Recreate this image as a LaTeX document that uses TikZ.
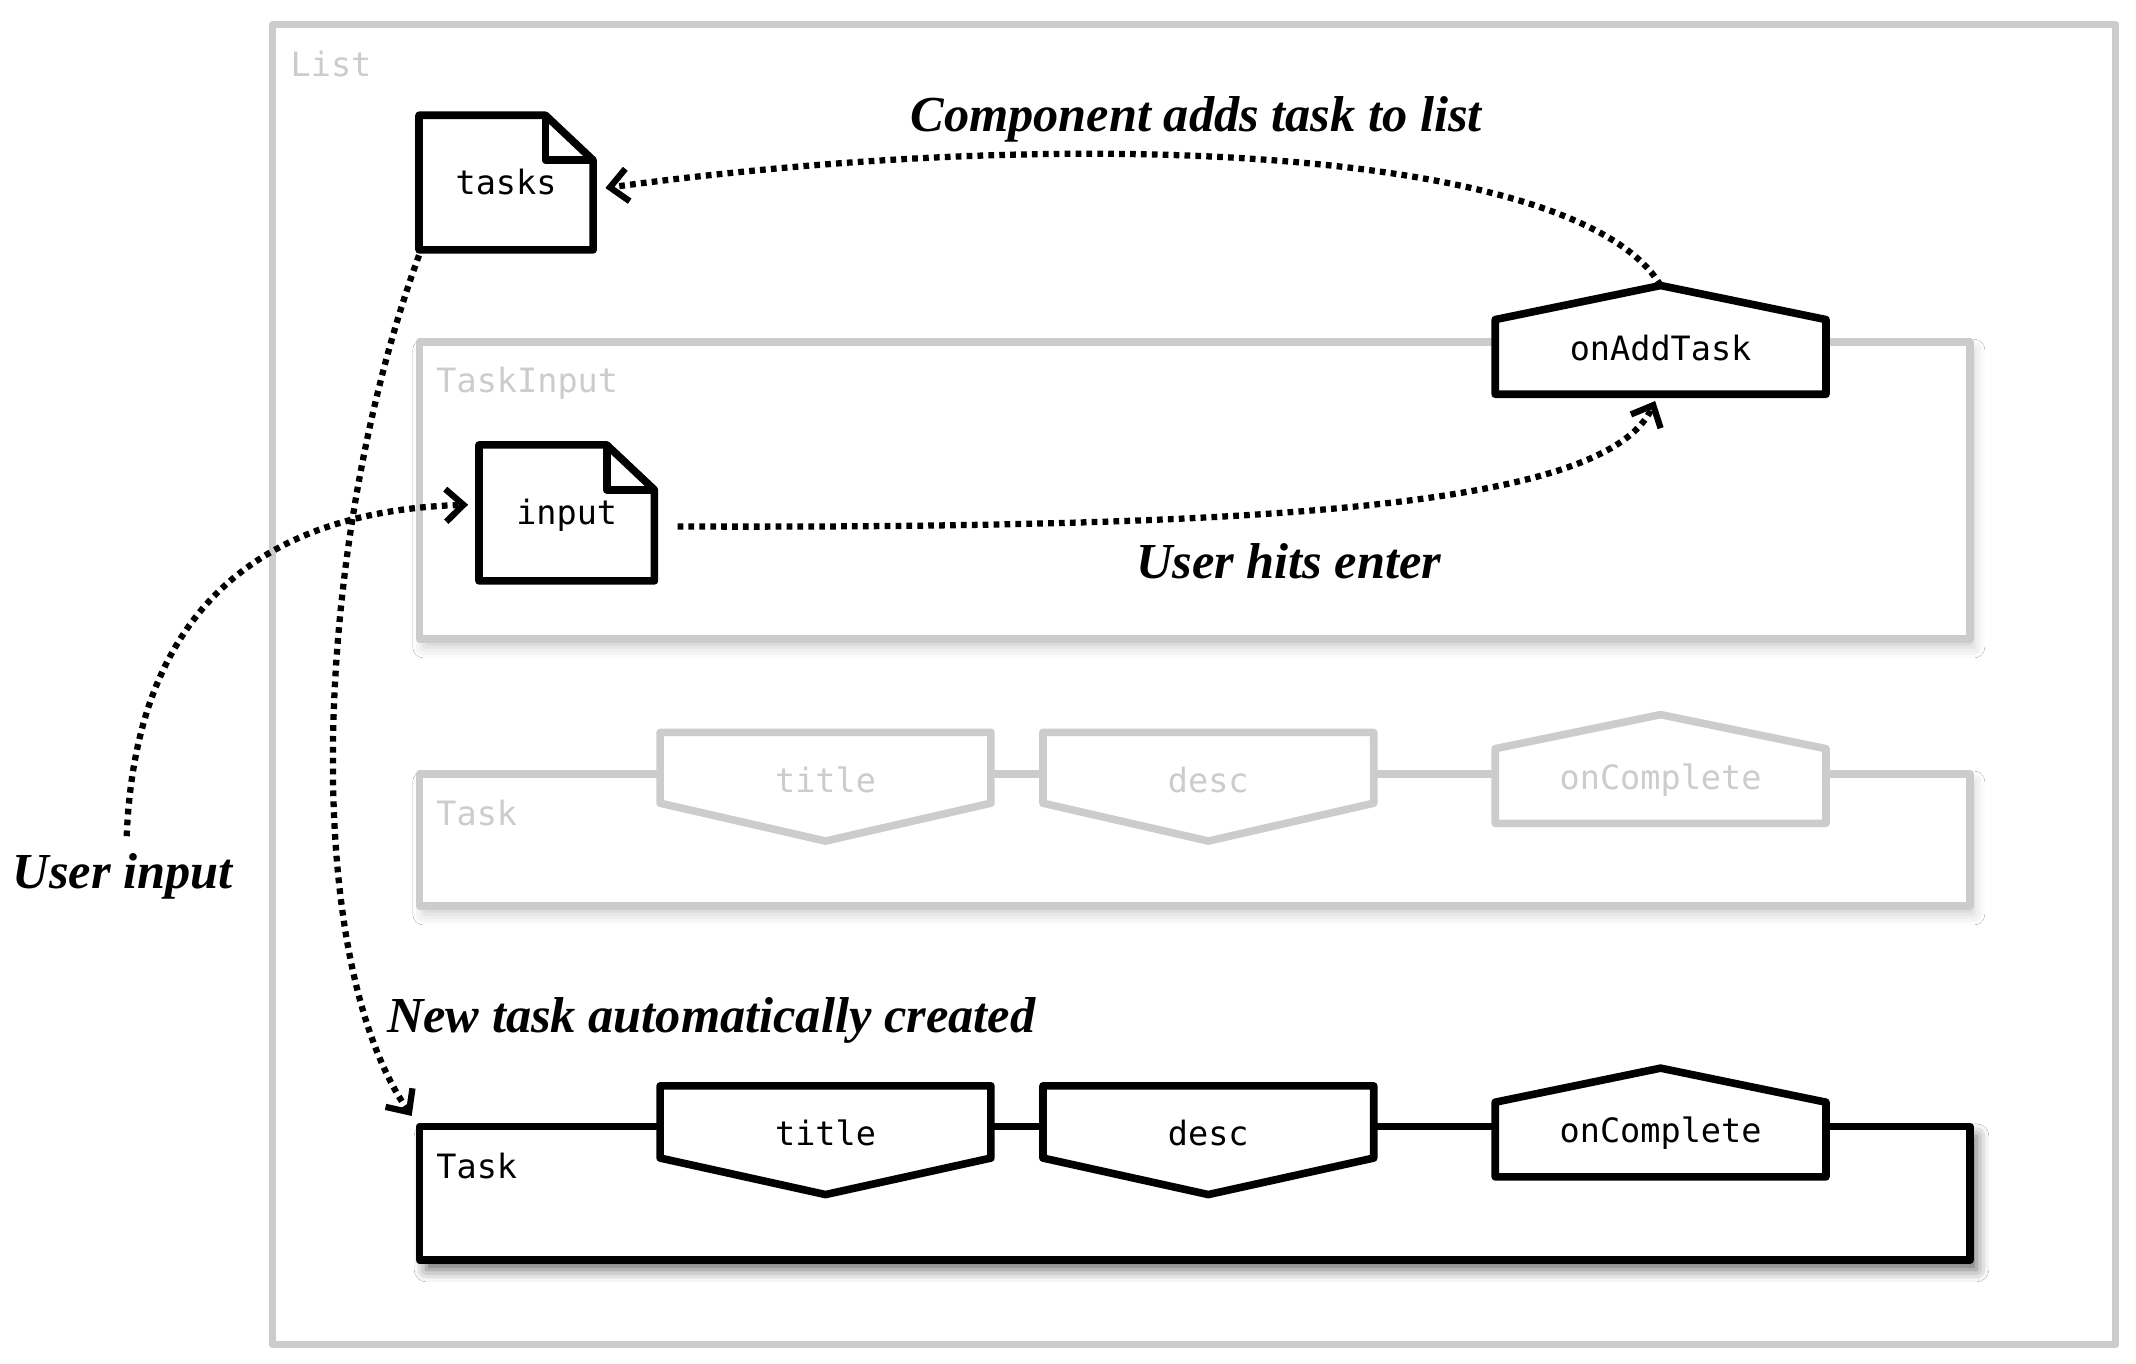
\documentclass[tikz,border=0pt]{standalone}
\usepackage{fontspec}
\setmainfont{Liberation Serif}
\setmonofont{DejaVu Sans Mono}
\usetikzlibrary{arrows.meta,calc,shadows.blur}
\definecolor{boxgray}{HTML}{CCCCCC}
\begin{document}
\begin{tikzpicture}[x=0.5pt,y=-0.5pt,
  mono/.style={font=\ttfamily\fontsize{12.3}{14}\selectfont, inner sep=0pt},
  annot/.style={font=\bfseries\itshape\fontsize{18.5}{22}\selectfont, inner sep=0pt},
  grayline/.style={draw=boxgray, line width=2.8pt, line join=round},
  blackline/.style={draw=black, line width=2.8pt, line join=round},
  container/.style={rectangle, inner sep=0pt, fill=white},
  lightshadow/.style={blur shadow={shadow xshift=1.5pt, shadow yshift=-3pt, shadow blur radius=4pt, shadow opacity=20}},
  darkshadow/.style={blur shadow={shadow xshift=2.5pt, shadow yshift=-3.5pt, shadow blur radius=4.5pt, shadow opacity=60}},
  portbox/.style={mono, rectangle, minimum width=121pt, minimum height=39.5pt},
  houseport/.style={portbox, text height=14.8pt, text depth=0pt},
  downport/.style={portbox, text height=4.2pt, text depth=0pt},
  docbox/.style={mono, rectangle, text height=8.6pt, text depth=0pt},
  flow/.style={line width=2.3pt, dash pattern=on 2.1pt off 1.9pt,
    -{Straight Barb[length=6.5pt,width=12pt,line width=2.3pt]}}
]
\useasboundingbox (0,0) rectangle (1568,1001);

% containers
\node[container, grayline, minimum width=676.5pt, minimum height=484.5pt] (list) at (876.5,502.5) {};
\node[mono, text=boxgray, anchor=west] (listlbl) at (213,47) {List};

\node[container, grayline, lightshadow, minimum width=569pt, minimum height=109pt] (tinput) at (877,360) {};
\node[mono, text=boxgray, anchor=west] (tinputlbl) at (320,281) {TaskInput};

\node[container, grayline, lightshadow, minimum width=569pt, minimum height=48.5pt] (gtask) at (877,616.5) {};
\node[mono, text=boxgray, anchor=west] (gtasklbl) at (320,597) {Task};

\node[container, blackline, darkshadow, minimum width=569pt, minimum height=49pt] (btask) at (877,876) {};
\node[mono, anchor=west] (btasklbl) at (320,856) {Task};

% document nodes
\node[docbox, minimum width=63.5pt, minimum height=49pt] (tasks) at (371.5,134) {tasks};
\draw[blackline] (tasks.north west) -- ($(tasks.north east)+(-35,0)$) -- ($(tasks.north east)+(0,33)$)
  -- (tasks.south east) -- (tasks.south west) -- cycle;
\draw[blackline] ($(tasks.north east)+(-35,0)$) -- ($(tasks.north east)+(-35,33)$) -- ($(tasks.north east)+(0,33)$);

\node[docbox, minimum width=64pt, minimum height=49.5pt] (input) at (416,376.5) {input};
\draw[blackline] (input.north west) -- ($(input.north east)+(-35,0)$) -- ($(input.north east)+(0,33)$)
  -- (input.south east) -- (input.south west) -- cycle;
\draw[blackline] ($(input.north east)+(-35,0)$) -- ($(input.north east)+(-35,33)$) -- ($(input.north east)+(0,33)$);

% onAddTask
\node[houseport] (oat) at (1219,249.5) {};
\draw[blackline, fill=white] (oat.north) -- ($(oat.north east)+(0,25)$) -- (oat.south east)
  -- (oat.south west) -- ($(oat.north west)+(0,25)$) -- cycle;
\node[houseport] (oattxt) at (oat) {onAddTask};

% gray task ports
\node[downport] (gtitle) at (606,577.5) {};
\draw[grayline, fill=white] (gtitle.north west) -- (gtitle.north east) -- ($(gtitle.north east)+(0,52)$)
  -- (gtitle.south) -- ($(gtitle.north west)+(0,52)$) -- cycle;
\node[downport, text=boxgray] (gtitletxt) at (gtitle) {title};

\node[downport] (gdesc) at (887,577.5) {};
\draw[grayline, fill=white] (gdesc.north west) -- (gdesc.north east) -- ($(gdesc.north east)+(0,52)$)
  -- (gdesc.south) -- ($(gdesc.north west)+(0,52)$) -- cycle;
\node[downport, text=boxgray] (gdesctxt) at (gdesc) {desc};

\node[houseport] (gcomp) at (1219,564.5) {};
\draw[grayline, fill=white] (gcomp.north) -- ($(gcomp.north east)+(0,25)$) -- (gcomp.south east)
  -- (gcomp.south west) -- ($(gcomp.north west)+(0,25)$) -- cycle;
\node[houseport, text=boxgray] (gcomptxt) at (gcomp) {onComplete};

% black task ports
\node[downport] (btitle) at (606,837) {};
\draw[blackline, fill=white] (btitle.north west) -- (btitle.north east) -- ($(btitle.north east)+(0,53)$)
  -- (btitle.south) -- ($(btitle.north west)+(0,53)$) -- cycle;
\node[downport] (btitletxt) at (btitle) {title};

\node[downport] (bdesc) at (887,837) {};
\draw[blackline, fill=white] (bdesc.north west) -- (bdesc.north east) -- ($(bdesc.north east)+(0,53)$)
  -- (bdesc.south) -- ($(bdesc.north west)+(0,53)$) -- cycle;
\node[downport] (bdesctxt) at (bdesc) {desc};

\node[houseport] (bcomp) at (1219,824) {};
\draw[blackline, fill=white] (bcomp.north) -- ($(bcomp.north east)+(0,25)$) -- (bcomp.south east)
  -- (bcomp.south west) -- ($(bcomp.north west)+(0,25)$) -- cycle;
\node[houseport] (bcomptxt) at (bcomp) {onComplete};

% annotations
\node[annot] (lblcomp) at (878,88) {Component adds task to list};
\node[annot] (lblenter) at (946,412) {User hits enter};
\node[annot] (lblnew) at (522,749) {New task automatically created};
\node[annot] (lbluser) at (90,643) {User input};

% connectors
\draw[flow] (oat.north) .. controls (1160,110) and (800,90) .. ([shift={(9,4)}]tasks.east);
\draw[flow] ([shift={(17,10)}]input.east) .. controls (950,388) and (1180,370) .. ([shift={(-4,5)}]oat.south);
\draw[flow] ([shift={(0,4)}]tasks.south west) .. controls (230,400) and (220,700) .. ([shift={(-3,-5)}]btask.north west);
\draw[flow] ([shift={(3,-12)}]lbluser.north) .. controls (100,440) and (200,375) .. ([shift={(-8,-6)}]input.west);
\end{tikzpicture}
\end{document}
